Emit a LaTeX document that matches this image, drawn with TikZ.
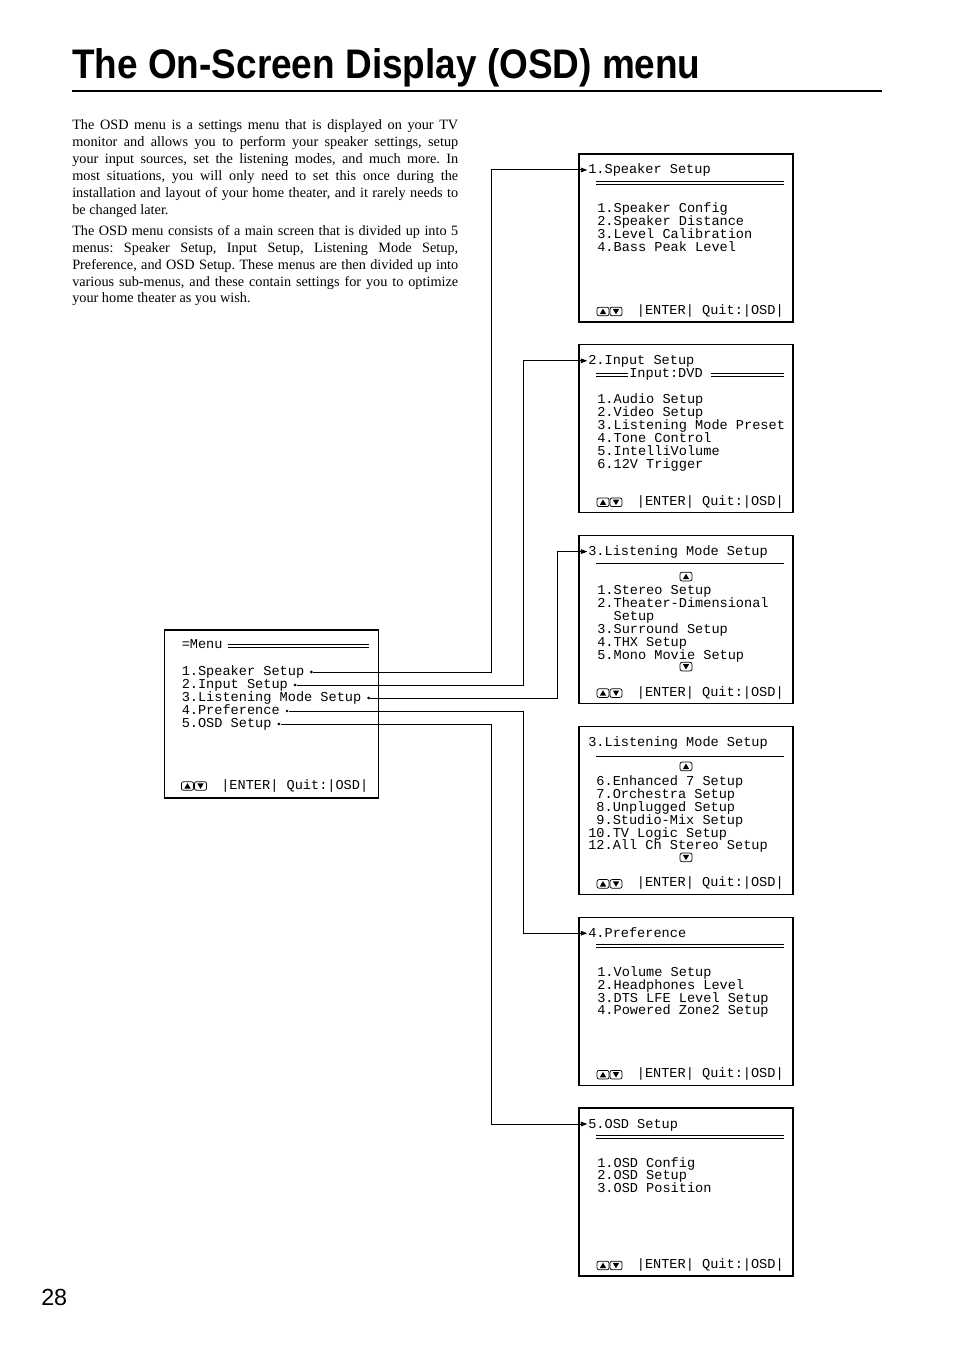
\documentclass[tikz,border=0pt]{standalone}
\usepackage{fontspec}
\setmainfont{Liberation Serif}
\newfontfamily\osdfam{Liberation Mono}
\newfontfamily\hdfam{Liberation Sans}
\usetikzlibrary{arrows.meta,positioning,calc}
\newcommand{\osdtext}{\osdfam\fontsize{10.2pt}{12pt}\selectfont}

\begin{document}
\begin{tikzpicture}[x=0.75pt,y=-0.75pt,>={Triangle[length=4.8pt,width=3.4pt]},
      scr/.style={draw,line width=0.8pt,minimum width=160.5pt,minimum height=126pt,
                  inner sep=0pt,outer sep=0pt},
      osd/.style={font=\osdtext,anchor=base west,inner sep=0pt,text height=7pt,text depth=1pt},
      dbl/.style={double,line width=0.65pt,double distance=1.5pt},
      wire/.style={->,line width=0.75pt,shorten >=0.5pt},
      dot/.style={circle,fill,inner sep=0pt,minimum size=2.2pt},
      keyframe/.style={line width=0.55pt,rounded corners=1.5pt},
      upkey/.pic={\draw[keyframe] (-6,-4.3) rectangle (6,4.3);
                  \fill (-3.2,2.6) -- (3.2,2.6) -- (0,-2.8) -- cycle;},
      dnkey/.pic={\draw[keyframe] (-6,-4.3) rectangle (6,4.3);
                  \fill (-3.2,-2.6) -- (3.2,-2.6) -- (0,2.8) -- cycle;},
      keybar/.pic={\pic at (6,0) {upkey}; \pic at (19,0) {dnkey};
                   \node[osd,anchor=base east] (-txt) at (187,3) {|ENTER| Quit:|OSD|};}]
    \useasboundingbox (0,0) rectangle (954,1351);
    % page head
    \node[anchor=base west,inner sep=0pt,font=\hdfam\bfseries\fontsize{31pt}{31pt}\selectfont]
      (title) at (72,79) {\scalebox{0.894}[1]{The On-Screen Display (OSD) menu}};
    \draw[line width=1.5pt] (72,91) -- (882,91);
    \node[anchor=north west,inner sep=0pt,text width=289.5pt,align=justify,
          font=\fontsize{10.7pt}{12.7pt}\selectfont] (intro) at (72,119.5)
      {\setlength{\parskip}{3pt}\hyphenpenalty=10000\frenchspacing
       The OSD menu is a settings menu that is displayed on your TV\linebreak
       monitor and allows you to perform your speaker settings, setup\linebreak
       your input sources, set the listening modes, and much more. In\linebreak
       most situations, you will only need to set this once during the\linebreak
       installation and layout of your home theater, and it rarely needs to\linebreak
       be changed later.\par
       The OSD menu consists of a main screen that is divided up into 5\linebreak
       menus: Speaker Setup, Input Setup, Listening Mode Setup,\linebreak
       Preference, and OSD Setup. These menus are then divided up into\linebreak
       various sub-menus, and these contain settings for you to optimize\linebreak
       your home theater as you wish.};
    \node[anchor=base west,inner sep=0pt,font=\hdfam\fontsize{17.5pt}{17.5pt}\selectfont]
      (page) at (41,1305) {28};

    % screens
    \node[scr] (m) at (271.5,714) {};
    \node[scr] (s1) at (686,238) {};
    \node[scr,below=17.1pt of s1] (s2) {};
    \node[scr,below=17.1pt of s2] (s3) {};
    \node[scr,below=17.1pt of s3] (s4) {};
    \node[scr,below=17.1pt of s4] (s5) {};
    \node[scr,below=17.1pt of s5] (s6) {};

    % main menu
    \begin{scope}[shift={(m.north west)}]
      \node[osd] (mt) at (17,18.3) {=Menu};
      \draw[dbl] (63,16) -- (204,16);
      \foreach \s [count=\i] in {1.Speaker Setup,2.Input Setup,3.Listening Mode Setup,
                                 4.Preference,5.OSD Setup}
        \node[osd] (m\i) at (17,{32+13*\i}) {\s};
      \pic (kbm) at (17,156) {keybar};
    \end{scope}
    \foreach \i in {1,...,5}
      \node[dot] (d\i) at ($(m\i.base east)+(7,-3)$) {};

    % 1. speaker setup
    \begin{scope}[shift={(s1.north west)}]
      \node[osd] (t1) at (9,20) {1.Speaker Setup};
      \draw[dbl] (17,29) -- (205,29);
      \foreach \s [count=\i from 0] in {1.Speaker Config,2.Speaker Distance,
                                        3.Level Calibration,4.Bass Peak Level}
        \node[osd] (sp\i) at (18,{59+12.9*\i}) {\s};
      \pic (kb1) at (18,157.5) {keybar};
    \end{scope}

    % 2. input setup
    \begin{scope}[shift={(s2.north west)}]
      \node[osd] (t2) at (9,20) {2.Input Setup};
      \draw[dbl] (17,30) -- (49,30);
      \node[osd] (src) at (50,33) {Input:DVD};
      \draw[dbl] (132,30) -- (205,30);
      \foreach \s [count=\i from 0] in {1.Audio Setup,2.Video Setup,3.Listening Mode Preset,
                                        4.Tone Control,5.IntelliVolume,6.12V Trigger}
        \node[osd] (in\i) at (18,{59+12.9*\i}) {\s};
      \pic (kb2) at (18,157.5) {keybar};
    \end{scope}

    % 3. listening mode setup, page 1
    \begin{scope}[shift={(s3.north west)}]
      \node[osd] (t3) at (9,20) {3.Listening Mode Setup};
      \draw[dbl] (17,29) -- (205,29);
      \pic at (107,41) {upkey};
      \foreach \s [count=\i from 0] in {1.Stereo Setup,2.Theater-Dimensional,
                                        {\phantom{2.}Setup},3.Surround Setup,
                                        4.THX Setup,5.Mono Movie Setup}
        \node[osd] (lm\i) at (18,{59+12.9*\i}) {\s};
      \pic at (107,131) {dnkey};
      \pic (kb3) at (18,157.5) {keybar};
    \end{scope}

    % 3. listening mode setup, page 2
    \begin{scope}[shift={(s4.north west)}]
      \node[osd] (t4) at (9,20) {3.Listening Mode Setup};
      \draw[dbl] (17,29) -- (205,29);
      \pic at (107,40) {upkey};
      \foreach \s [count=\i from 0] in {{\phantom{1}6.Enhanced 7 Setup},
                                        {\phantom{1}7.Orchestra Setup},
                                        {\phantom{1}8.Unplugged Setup},
                                        {\phantom{1}9.Studio-Mix Setup},
                                        10.TV Logic Setup,12.All Ch Stereo Setup}
        \node[osd] (lx\i) at (9,{59+12.9*\i}) {\s};
      \pic at (107,131) {dnkey};
      \pic (kb4) at (18,157.5) {keybar};
    \end{scope}

    % 4. preference
    \begin{scope}[shift={(s5.north west)}]
      \node[osd] (t5) at (9,20) {4.Preference};
      \draw[dbl] (17,29) -- (205,29);
      \foreach \s [count=\i from 0] in {1.Volume Setup,2.Headphones Level,
                                        3.DTS LFE Level Setup,4.Powered Zone2 Setup}
        \node[osd] (pf\i) at (18,{59+12.9*\i}) {\s};
      \pic (kb5) at (18,157.5) {keybar};
    \end{scope}

    % 5. osd setup
    \begin{scope}[shift={(s6.north west)}]
      \node[osd] (t6) at (9,20) {5.OSD Setup};
      \draw[dbl] (17,29) -- (205,29);
      \foreach \s [count=\i from 0] in {1.OSD Config,2.OSD Setup,3.OSD Position}
        \node[osd] (os\i) at (18,{59+12.9*\i}) {\s};
      \pic (kb6) at (18,157.5) {keybar};
    \end{scope}

    % wiring
    \coordinate (c1) at (491,0);
    \coordinate (c2) at (523,0);
    \coordinate (c3) at (557,0);
    \draw[wire] (d1) -- (d1 -| c1) |- (t1.west);
    \draw[wire] (d2) -- (d2 -| c2) |- (t2.west);
    \draw[wire] (d3) -- (d3 -| c3) |- (t3.west);
    \draw[wire] (d4) -- (d4 -| c2) |- (t5.west);
    \draw[wire] (d5) -- (d5 -| c1) |- (t6.west);
  \end{tikzpicture}
\end{document}
